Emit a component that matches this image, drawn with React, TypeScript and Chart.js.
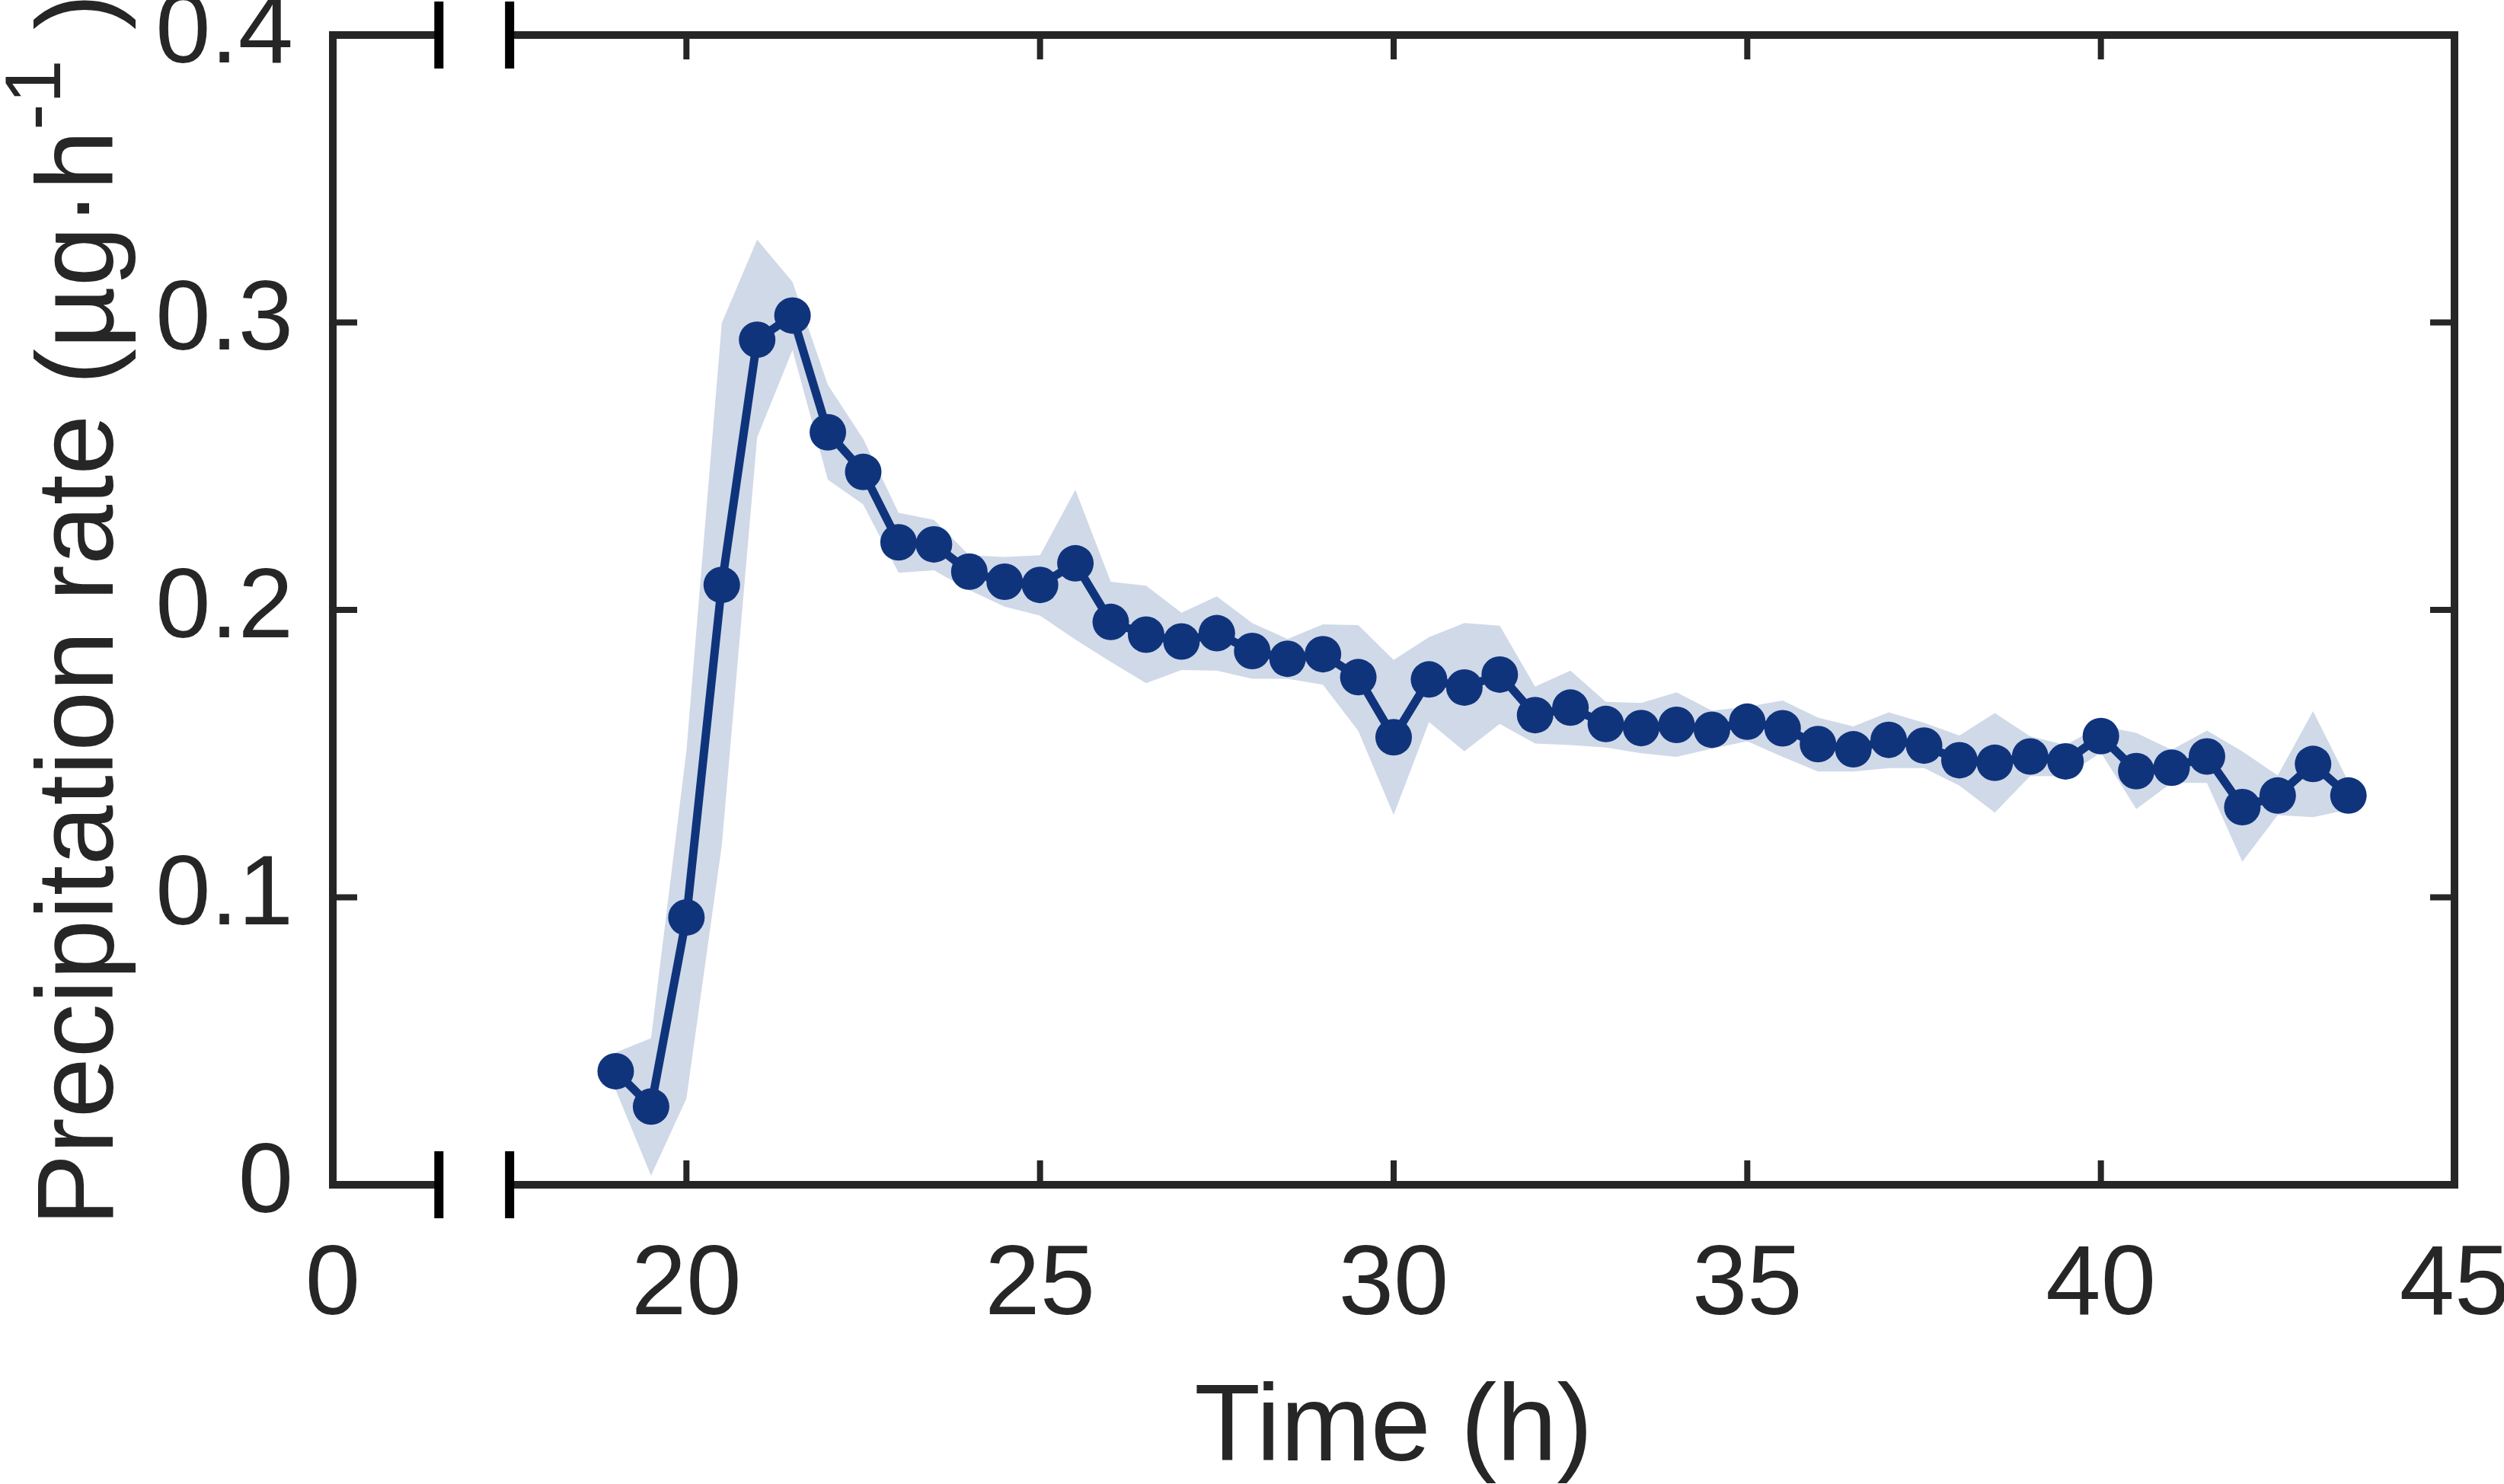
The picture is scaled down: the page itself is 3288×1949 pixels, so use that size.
import { useEffect, useRef } from 'react';
import { Chart, ChartConfiguration, registerables } from 'chart.js';

Chart.register(...registerables);

// time axis is broken: the "0" tick sits where 15 h would be, the gap is marked at 16.5 / 17.5
const xTickPositions = [15, 20, 25, 30, 35, 40, 45];
const xTickLabels = ['0', '20', '25', '30', '35', '40', '45'];
const xBreak = [16.5, 17.5];
const yTickValues = [0, 0.1, 0.2, 0.3, 0.4];
const yTickLabels = ['0', '0.1', '0.2', '0.3', '0.4'];

const timeH = [
  19, 19.5, 20, 20.5, 21, 21.5, 22, 22.5, 23, 23.5,
  24, 24.5, 25, 25.5, 26, 26.5, 27, 27.5, 28, 28.5,
  29, 29.5, 30, 30.5, 31, 31.5, 32, 32.5, 33, 33.5,
  34, 34.5, 35, 35.5, 36, 36.5, 37, 37.5, 38, 38.5,
  39, 39.5, 40, 40.5, 41, 41.5, 42, 42.5, 43, 43.5,
];
const rateMean = [
  0.0395, 0.0272, 0.093, 0.2087, 0.294, 0.3024, 0.2618, 0.248, 0.2235, 0.2228,
  0.2133, 0.2098, 0.2087, 0.2162, 0.1958, 0.1914, 0.189, 0.1919, 0.1857, 0.183,
  0.1846, 0.1766, 0.1557, 0.1758, 0.173, 0.1775, 0.1634, 0.166, 0.1603, 0.1589,
  0.16, 0.1583, 0.1611, 0.1588, 0.1533, 0.1515, 0.1548, 0.1528, 0.1477, 0.1468,
  0.149, 0.1473, 0.1561, 0.1439, 0.1451, 0.149, 0.1314, 0.1354, 0.1464, 0.1354,
];
const rateUpper = [
  0.046, 0.051, 0.151, 0.2998, 0.3288, 0.3141, 0.2783, 0.2595, 0.2338, 0.2313,
  0.219, 0.2184, 0.219, 0.2418, 0.2098, 0.2084, 0.199, 0.2047, 0.1954, 0.1899,
  0.195, 0.1947, 0.1826, 0.1905, 0.1954, 0.1945, 0.1733, 0.1789, 0.168, 0.1676,
  0.1713, 0.165, 0.1663, 0.1685, 0.1625, 0.1595, 0.1644, 0.1607, 0.1563, 0.1641,
  0.156, 0.153, 0.1597, 0.1572, 0.1513, 0.158, 0.1508, 0.1424, 0.1648, 0.1402,
];
const rateLower = [
  0.033, 0.0032, 0.03, 0.118, 0.26, 0.2904, 0.2453, 0.2367, 0.2129, 0.2138,
  0.2069, 0.2011, 0.198, 0.1897, 0.1819, 0.1745, 0.1791, 0.1789, 0.176, 0.176,
  0.174, 0.1579, 0.1287, 0.161, 0.1508, 0.1603, 0.1535, 0.153, 0.1521, 0.1501,
  0.1489, 0.1517, 0.1543, 0.1489, 0.1438, 0.1438, 0.145, 0.145, 0.1389, 0.1295,
  0.1422, 0.1421, 0.1504, 0.1307, 0.1398, 0.1398, 0.1124, 0.1286, 0.1279, 0.1305,
];

const FONT = "'Liberation Sans', Arial, Helvetica, sans-serif";
const TEXT = '#262626';
const LINE = '#10347c';
const BAND = 'rgb(208, 217, 232)';

const toPoints = (ys: number[]) => timeH.map((x, i) => ({ x, y: ys[i] }));

// box with inner ticks, axis break marks and the two axis titles
const framePlugin = {
  id: 'brokenFrame',
  afterDatasetsDraw(chart: Chart) {
    const { ctx, chartArea, scales } = chart;
    const { left, right, top, bottom } = chartArea;
    const x = scales.x;
    const y = scales.y;
    const b0 = x.getPixelForValue(xBreak[0]);
    const b1 = x.getPixelForValue(xBreak[1]);

    ctx.save();
    ctx.strokeStyle = TEXT;
    ctx.lineWidth = 10;
    ctx.lineCap = 'square';
    ctx.beginPath();
    ctx.moveTo(left, top);
    ctx.lineTo(left, bottom);
    ctx.moveTo(right, top);
    ctx.lineTo(right, bottom);
    for (const yy of [top, bottom]) {
      ctx.moveTo(left, yy);
      ctx.lineTo(b0, yy);
      ctx.moveTo(b1, yy);
      ctx.lineTo(right, yy);
    }
    ctx.stroke();

    ctx.lineCap = 'butt';
    ctx.lineWidth = 8;
    ctx.beginPath();
    const tick = 32;
    xTickPositions.forEach((v) => {
      if (v <= x.min || v >= x.max) return;
      const px = x.getPixelForValue(v);
      ctx.moveTo(px, bottom);
      ctx.lineTo(px, bottom - tick);
      ctx.moveTo(px, top);
      ctx.lineTo(px, top + tick);
    });
    yTickValues.forEach((v) => {
      if (v <= y.min || v >= y.max) return;
      const py = y.getPixelForValue(v);
      ctx.moveTo(left, py);
      ctx.lineTo(left + tick, py);
      ctx.moveTo(right, py);
      ctx.lineTo(right - tick, py);
    });
    ctx.stroke();

    ctx.strokeStyle = '#000';
    ctx.lineWidth = 12;
    ctx.beginPath();
    for (const px of [b0, b1]) {
      for (const yy of [top, bottom]) {
        ctx.moveTo(px, yy - 44);
        ctx.lineTo(px, yy + 44);
      }
    }
    ctx.stroke();
    ctx.restore();
  },
  afterDraw(chart: Chart) {
    const { ctx, chartArea } = chart;
    const { left, right, top, bottom } = chartArea;
    ctx.save();
    ctx.fillStyle = TEXT;
    ctx.textBaseline = 'alphabetic';

    ctx.font = `142px ${FONT}`;
    ctx.textAlign = 'center';
    ctx.fillText('Time (h)', (left + right) / 2, bottom + 362);

    // y title with a real superscript
    const main = 'Precipitation rate (\u00b5g\u00b7h';
    const sup = '-1';
    const tail = ' )';
    ctx.translate(148, (top + bottom) / 2);
    ctx.rotate(-Math.PI / 2);
    ctx.textAlign = 'left';
    ctx.font = `142px ${FONT}`;
    const wMain = ctx.measureText(main).width;
    const wTail = ctx.measureText(tail).width;
    ctx.font = `104px ${FONT}`;
    const wSup = ctx.measureText(sup).width;
    const x0 = -(wMain + wSup + wTail) / 2;
    ctx.font = `142px ${FONT}`;
    ctx.fillText(main, x0, 0);
    ctx.fillText(tail, x0 + wMain + wSup, 0);
    ctx.font = `104px ${FONT}`;
    ctx.fillText(sup, x0 + wMain, -69);
    ctx.restore();
  },
};

export default function App() {
  const chartRef = useRef<HTMLCanvasElement>(null);
  const chartInstance = useRef<Chart | null>(null);

  useEffect(() => {
    document.body.style.margin = '0';
    if (!chartRef.current) return;
    const ctx = chartRef.current.getContext('2d');
    if (!ctx) return;
    if (chartInstance.current) chartInstance.current.destroy();

    const config: ChartConfiguration<'line'> = {
      type: 'line',
      data: {
        datasets: [
          {
            label: 'Precipitation rate',
            data: toPoints(rateMean),
            borderColor: LINE,
            borderWidth: 11,
            backgroundColor: LINE,
            pointBackgroundColor: LINE,
            pointBorderWidth: 0,
            pointRadius: 24,
            tension: 0,
            fill: false,
          },
          {
            label: 'upper',
            data: toPoints(rateUpper),
            borderWidth: 0,
            borderColor: 'rgba(0,0,0,0)',
            backgroundColor: BAND,
            pointRadius: 0,
            tension: 0,
            fill: '+1',
          },
          {
            label: 'lower',
            data: toPoints(rateLower),
            borderWidth: 0,
            borderColor: 'rgba(0,0,0,0)',
            backgroundColor: BAND,
            pointRadius: 0,
            tension: 0,
            fill: false,
          },
        ],
      },
      options: {
        animation: false,
        responsive: false,
        events: [],
        layout: { padding: { top: 46, right: 65, left: 0, bottom: 0 } },
        plugins: {
          legend: { display: false },
          tooltip: { enabled: false },
        },
        scales: {
          x: {
            type: 'linear',
            min: 15,
            max: 45,
            grid: { display: false, drawTicks: false },
            border: { display: false },
            afterBuildTicks: (axis) => {
              axis.ticks = xTickPositions.map((value) => ({ value }));
            },
            afterFit: (axis) => {
              axis.height = 393;
              axis.paddingLeft = 0;
              axis.paddingRight = 0;
            },
            ticks: {
              autoSkip: false,
              maxRotation: 0,
              padding: 56,
              color: TEXT,
              font: { family: FONT, size: 130 },
              callback: (value) => xTickLabels[xTickPositions.indexOf(Number(value))] ?? '',
            },
          },
          y: {
            type: 'linear',
            min: 0,
            max: 0.4,
            grid: { display: false, drawTicks: false },
            border: { display: false },
            afterBuildTicks: (axis) => {
              axis.ticks = yTickValues.map((value) => ({ value }));
            },
            afterFit: (axis) => {
              axis.width = 437;
              axis.paddingTop = 0;
              axis.paddingBottom = 0;
            },
            ticks: {
              autoSkip: false,
              padding: 52,
              color: TEXT,
              font: { family: FONT, size: 130 },
              callback: (value) => yTickLabels[yTickValues.indexOf(Number(value))] ?? '',
            },
          },
        },
      },
      plugins: [framePlugin],
    };

    chartInstance.current = new Chart(ctx, config);

    return () => {
      if (chartInstance.current) {
        chartInstance.current.destroy();
        chartInstance.current = null;
      }
    };
  }, []);

  return (
    <div style={{ width: 3288, height: 1949, overflow: 'hidden', background: '#fff' }}>
      <canvas ref={chartRef} width={3288} height={1949} style={{ display: 'block' }} />
    </div>
  );
}
